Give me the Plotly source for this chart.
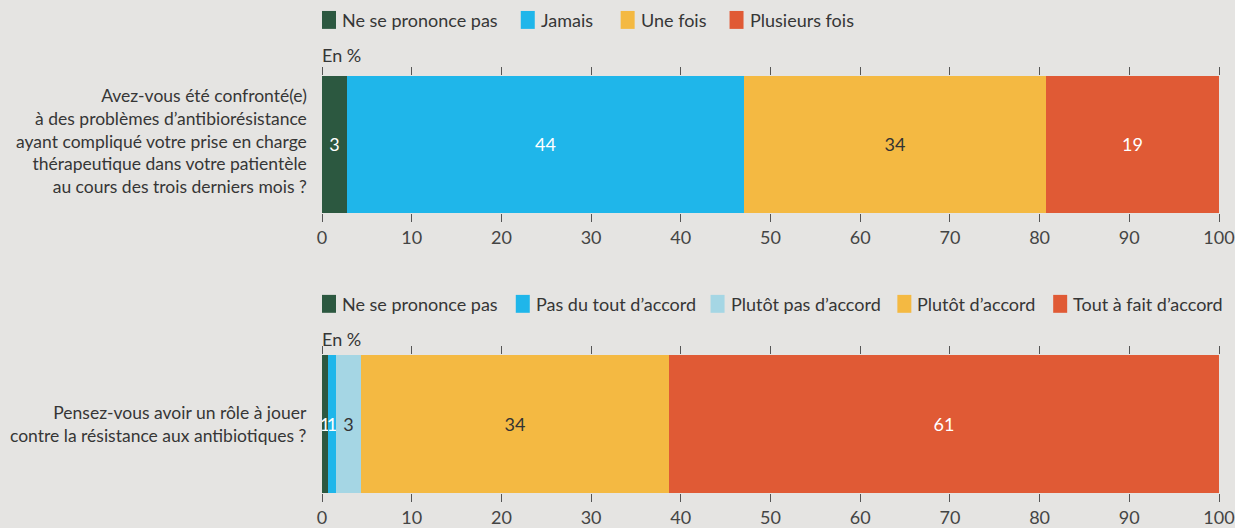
import plotly.graph_objects as go
from plotly.subplots import make_subplots

# --- Data ---
q1_label = "Avez-vous été confronté(e)<br>à des problèmes d’antibiorésistance<br>ayant compliqué votre prise en charge<br>thérapeutique dans votre patientèle<br>au cours des trois derniers mois ?"
q1_categories = ["Ne se prononce pas", "Jamais", "Une fois", "Plusieurs fois"]
q1_values = [2.8, 44.3, 33.6, 19.3]
q1_text = ["3", "44", "34", "19"]

q2_label = "Pensez-vous avoir un rôle à jouer<br>contre la résistance aux antibiotiques ?"
q2_categories = ["Ne se prononce pas", "Pas du tout d’accord", "Plutôt pas d’accord", "Plutôt d’accord", "Tout à fait d’accord"]
q2_values = [0.7, 0.9, 2.7, 34.4, 61.3]
q2_text = ["1", "1", "3", "34", "61"]

x_ticks = [0, 10, 20, 30, 40, 50, 60, 70, 80, 90, 100]

# --- Styles / layout ---
FONT = "Lato, Liberation Sans, sans-serif"
BG = "#e5e4e2"
TXT = "#363636"
q1_colors = ["#2c5840", "#1fb6ea", "#f4b942", "#e05a35"]
q1_textcolors = ["white", "white", "#333333", "white"]
q2_colors = ["#2c5840", "#1fb6ea", "#a5d6e4", "#f4b942", "#e05a35"]
q2_textcolors = ["white", "white", "#333333", "#333333", "white"]

W, H = 1235, 528
ML, MR = 322, 15
PW = W - ML - MR
q1_legend_px = [322, 521, 621, 730]        # swatch left edges (layout)
q2_legend_px = [322, 516, 711, 898, 1054]
q1_legend_y, q2_legend_y = 20, 305
q1_enpct_y, q2_enpct_y = 55, 340

fig = make_subplots(rows=2, cols=1)

for name, v, t, c, tc in zip(q1_categories, q1_values, q1_text, q1_colors, q1_textcolors):
    fig.add_trace(go.Bar(
        y=["q1"], x=[v], name=name, orientation="h", text=[t],
        textposition="inside", insidetextanchor="middle", constraintext="none",
        textfont=dict(color=tc, size=18, family=FONT),
        marker=dict(color=c, line=dict(width=0)),
        showlegend=False, hoverinfo="skip",
    ), row=1, col=1)

for name, v, t, c, tc in zip(q2_categories, q2_values, q2_text, q2_colors, q2_textcolors):
    fig.add_trace(go.Bar(
        y=["q2"], x=[v], name=name, orientation="h", text=[t],
        textposition="inside", insidetextanchor="middle", constraintext="none",
        textfont=dict(color=tc, size=18, family=FONT),
        marker=dict(color=c, line=dict(width=0)),
        showlegend=False, hoverinfo="skip",
    ), row=2, col=1)

def dom(top_px, bot_px):
    return [(H - bot_px) / H, (H - top_px) / H]

xaxis_common = dict(range=[0, 100], tickvals=x_ticks, showgrid=False, zeroline=False,
                    ticks="outside", ticklen=8, tickcolor="#555555", tickwidth=1,
                    mirror="ticks", showline=False, ticklabeloverflow="allow",
                    tickfont=dict(size=18, color="#444444", family=FONT), fixedrange=True)
yaxis_common = dict(showticklabels=False, showgrid=False, zeroline=False, range=[-0.5, 0.5],
                    fixedrange=True)

fig.update_layout(
    width=W, height=H,
    paper_bgcolor=BG, plot_bgcolor=BG,
    barmode="stack", bargap=0,
    margin=dict(l=ML, r=MR, t=0, b=0),
    font=dict(family=FONT, color=TXT, size=18),
    xaxis=dict(**xaxis_common, anchor="y"),
    xaxis2=dict(**xaxis_common, anchor="y2"),
    yaxis=dict(**yaxis_common, domain=dom(76, 214)),
    yaxis2=dict(**yaxis_common, domain=dom(356, 495)),
    showlegend=False,
)

def px2x(px):
    return (px - ML) / PW

def px2y(py):
    return 1 - py / H

annotations = []
shapes = []

def add_legend(cats, colors, xs, ycenter):
    for cat, col, x0 in zip(cats, colors, xs):
        shapes.append(dict(type="rect", xref="paper", yref="paper",
                           x0=px2x(x0), x1=px2x(x0 + 14),
                           y0=px2y(ycenter + 9), y1=px2y(ycenter - 9),
                           fillcolor=col, line=dict(width=0)))
        annotations.append(dict(text=cat, xref="paper", yref="paper",
                                x=px2x(x0 + 18), y=px2y(ycenter), xanchor="left", yanchor="middle",
                                showarrow=False, font=dict(size=18, color=TXT, family=FONT)))

add_legend(q1_categories, q1_colors, q1_legend_px, q1_legend_y)
add_legend(q2_categories, q2_colors, q2_legend_px, q2_legend_y)

annotations += [
    dict(text="En %", xref="paper", yref="paper", x=0, y=px2y(q1_enpct_y), xanchor="left", yanchor="middle",
         xshift=-2, showarrow=False, font=dict(size=18, color=TXT, family=FONT)),
    dict(text="En %", xref="paper", yref="paper", x=0, y=px2y(q2_enpct_y), xanchor="left", yanchor="middle",
         xshift=-2, showarrow=False, font=dict(size=18, color=TXT, family=FONT)),
    dict(text=q1_label, xref="paper", yref="y", x=0, y=0, xanchor="right", yanchor="middle",
         xshift=-13, yshift=3, align="right", showarrow=False, font=dict(size=17.5, color=TXT, family=FONT)),
    dict(text=q2_label, xref="paper", yref="y2", x=0, y=0, xanchor="right", yanchor="middle",
         xshift=-13, align="right", showarrow=False, font=dict(size=17.5, color=TXT, family=FONT)),
]
fig.update_layout(annotations=annotations, shapes=shapes)

fig.write_html("out.html", config={"displayModeBar": False},
               post_script="document.body.style.margin='0';document.body.style.overflow='hidden';")
